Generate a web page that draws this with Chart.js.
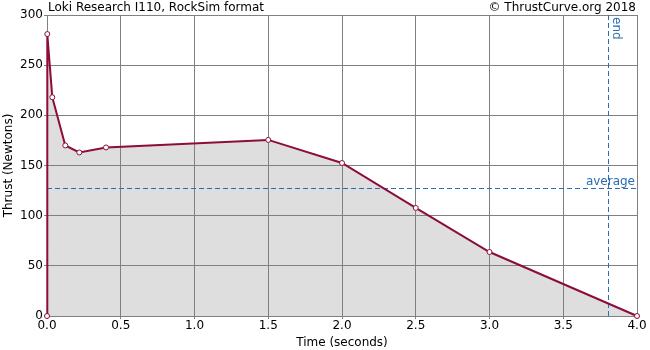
<!DOCTYPE html>
<html>
<head>
<meta charset="utf-8">
<script src="https://cdn.jsdelivr.net/npm/chart.js@4/dist/chart.umd.min.js"></script>
<style>
  html, body { margin: 0; padding: 0; background: #ffffff; }
  #wrap { width: 650px; height: 350px; }
</style>
</head>
<body>
<div id="wrap"><canvas id="thrustPlot" width="650" height="350"></canvas></div>
<script>
// thrust curve samples
let timeValues   = [0.0, 0.002, 0.036, 0.124, 0.219, 0.4, 1.5, 2.0, 2.5, 3.0, 4.0];
let thrustValues = [0, 281, 218, 170, 163, 168, 175.5, 152.5, 107.7, 63.8, 0];

let averageThrust = 127.6; // dashed "average" line
let burnEnd = 3.8;         // dashed "end" line

let chartTitle = 'Loki Research I110, RockSim format';
let chartCredit = '\u00a9 ThrustCurve.org 2018';

let points = timeValues.map((t, i) => ({x: t, y: thrustValues[i]}));

const fontName = "'DejaVu Sans', sans-serif";
const markColor = '#2a6db0';

// draws the average / end markers and the header texts
const overlayPlugin = {
    id: 'overlay',
    beforeDatasetsDraw(chart) {
        let ctx = chart.ctx;
        let area = chart.chartArea;
        let xs = chart.scales.x;
        let ys = chart.scales.y;

        ctx.save();
        ctx.strokeStyle = markColor;
        ctx.lineWidth = 1;
        ctx.setLineDash([5, 3]);

        let ay = Math.round(ys.getPixelForValue(averageThrust)) + 0.5;
        ctx.beginPath();
        ctx.moveTo(area.left, ay);
        ctx.lineTo(area.right, ay);
        ctx.stroke();

        let ex = Math.round(xs.getPixelForValue(burnEnd)) + 0.5;
        ctx.beginPath();
        ctx.moveTo(ex, area.top);
        ctx.lineTo(ex, area.bottom);
        ctx.stroke();
        ctx.setLineDash([]);

        ctx.fillStyle = markColor;
        ctx.font = '12px ' + fontName;
        ctx.textAlign = 'right';
        ctx.textBaseline = 'bottom';
        ctx.fillText('average', area.right - 2, ay - 1);

        ctx.translate(ex + 2, area.top + 2);
        ctx.rotate(Math.PI / 2);
        ctx.textAlign = 'left';
        ctx.textBaseline = 'bottom';
        ctx.fillText('end', 0, 0);
        ctx.restore();

        ctx.save();
        ctx.fillStyle = '#000000';
        ctx.font = '12px ' + fontName;
        ctx.textBaseline = 'bottom';
        ctx.textAlign = 'left';
        ctx.fillText(chartTitle, area.left + 1, area.top - 1);
        ctx.textAlign = 'right';
        ctx.fillText(chartCredit, area.right - 1, area.top - 1);
        ctx.restore();
    }
};

let plot = document.getElementById('thrustPlot').getContext('2d');

new Chart(plot, {
    type: 'scatter',
    data: {
        datasets: [{
            data: points,
            showLine: true,
            clip: false,
            borderColor: '#8c0d3c',
            borderWidth: 2,
            backgroundColor: '#dedede',
            fill: 'origin',
            tension: 0,
            pointRadius: 2.5,
            pointBorderWidth: 1,
            pointBackgroundColor: '#ffffff',
            pointBorderColor: '#8c0d3c'
        }]
    },
    options: {
        responsive: false,
        animation: false,
        layout: {
            padding: {top: 15, right: 13, left: 0, bottom: 0}
        },
        scales: {
            x: {
                type: 'linear',
                min: 0,
                max: 4,
                afterFit: scale => { scale.height = 34; },
                ticks: {
                    stepSize: 0.5,
                    color: '#000000',
                    padding: 0,
                    font: {family: fontName, size: 12},
                    callback: v => v.toFixed(1)
                },
                grid: {color: '#808080', tickLength: 3, tickColor: '#808080'},
                border: {color: '#808080'},
                title: {
                    display: true,
                    text: 'Time (seconds)',
                    color: '#000000',
                    padding: 0,
                    font: {family: fontName, size: 12}
                }
            },
            y: {
                min: 0,
                max: 300,
                afterFit: scale => { scale.width = 47; },
                ticks: {
                    stepSize: 50,
                    color: '#000000',
                    padding: 1,
                    font: {family: fontName, size: 12}
                },
                grid: {color: '#808080', tickLength: 3, tickColor: '#808080'},
                border: {color: '#808080'},
                title: {
                    display: true,
                    text: 'Thrust (Newtons)',
                    color: '#000000',
                    padding: {top: 2, bottom: 0},
                    font: {family: fontName, size: 12}
                }
            }
        },
        plugins: {
            legend: {display: false},
            tooltip: {enabled: false},
            filler: {drawTime: 'beforeDraw'}
        }
    },
    plugins: [overlayPlugin]
});
</script>
</body>
</html>
